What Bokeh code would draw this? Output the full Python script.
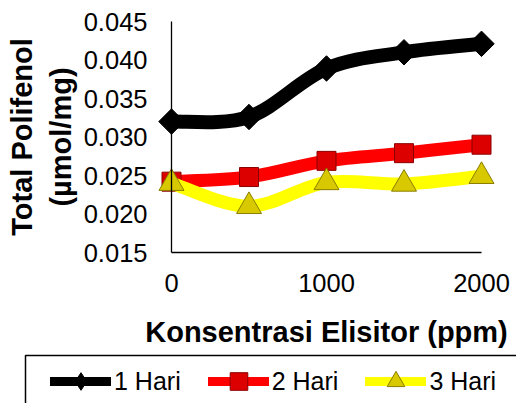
import math
import numpy as np
from bokeh.plotting import figure
from bokeh.models import (Range1d, FixedTicker, Legend, LegendItem, BoxAnnotation,
                          NumeralTickFormatter, ColumnDataSource)
from bokeh.embed import file_html
from bokeh.resources import INLINE

# ---- data ----
concentrations = [0, 500, 1000, 1500, 2000]
hari1 = [0.0320, 0.0326, 0.0389, 0.0410, 0.0421]
hari2 = [0.0242, 0.0248, 0.0269, 0.0279, 0.0290]
hari3 = [0.0240, 0.0210, 0.0241, 0.0239, 0.0249]
series_labels = ["1 Hari", "2 Hari", "3 Hari"]
x_ticks = [0, 1000, 2000]
y_ticks = [0.015, 0.020, 0.025, 0.030, 0.035, 0.040, 0.045]
x_title = "Konsentrasi Elisitor (ppm)"
y_title = "Total Polifenol\n(µmol/mg)"

# ---- layout constants (pixels); the frame covers the whole canvas ----
W, H = 516, 403
ax_left, ax_right, ax_top, ax_bottom = 171, 481, 21, 252

xs_ = (ax_right - ax_left) / (x_ticks[-1] - x_ticks[0])
ys_ = (ax_bottom - ax_top) / (y_ticks[-1] - y_ticks[0])
x_start = x_ticks[0] - ax_left / xs_
x_end = x_ticks[-1] + (W - ax_right) / xs_
y_end = y_ticks[-1] + ax_top / ys_
y_start = y_ticks[0] - (H - ax_bottom) / ys_

p = figure(width=W, height=H, output_backend="svg", toolbar_location=None,
           x_range=Range1d(x_start, x_end), y_range=Range1d(y_start, y_end),
           min_border=0, min_border_left=0, min_border_right=0,
           min_border_top=0, min_border_bottom=0)
p.outline_line_color = None
p.grid.visible = False
p.background_fill_color = "white"
p.border_fill_color = "white"

FONT = "Liberation Sans"

# axes (fixed inside the frame)
p.xaxis.ticker = FixedTicker(ticks=x_ticks)
p.xaxis.bounds = (x_ticks[0], x_ticks[-1])
p.xaxis.fixed_location = y_ticks[0]
p.yaxis.ticker = FixedTicker(ticks=y_ticks)
p.yaxis.bounds = (y_ticks[0], y_ticks[-1])
p.yaxis.formatter = NumeralTickFormatter(format="0.000")
p.yaxis.fixed_location = x_ticks[0]
for ax in (p.xaxis[0], p.yaxis[0]):
    ax.major_tick_out = 0
    ax.major_tick_in = 0
    ax.minor_tick_out = 0
    ax.minor_tick_in = 0
    ax.axis_line_color = "black"
    ax.axis_line_width = 1.3
    ax.major_label_text_font = FONT
    ax.major_label_text_font_size = "25.5px"
    ax.major_label_text_color = "black"
    ax.axis_label_text_font = FONT
    ax.axis_label_text_font_style = "bold"
    ax.axis_label_text_font_size = "29px"
    ax.axis_label_text_color = "black"
p.xaxis.axis_label = x_title
p.yaxis.axis_label = y_title
p.yaxis.axis_label_text_line_height = 1.2
p.xaxis.major_label_standoff = 21
p.xaxis.axis_label_standoff = 21
p.yaxis.major_label_standoff = 24
p.yaxis.axis_label_standoff = 4


def smooth_segments(xs, ys):
    xs = np.asarray(xs, float)
    ys = np.asarray(ys, float)
    n = len(xs)
    px = np.concatenate([[xs[0]], xs, [xs[-1]]])
    py = np.concatenate([[ys[0]], ys, [ys[-1]]])
    d = dict(x0=[], y0=[], x1=[], y1=[], cx0=[], cy0=[], cx1=[], cy1=[])
    for i in range(n - 1):
        a, b, c, e = i, i + 1, i + 2, i + 3
        d["x0"].append(px[b]); d["y0"].append(py[b])
        d["x1"].append(px[c]); d["y1"].append(py[c])
        d["cx0"].append(px[b] + (px[c] - px[a]) / 6)
        d["cy0"].append(py[b] + (py[c] - py[a]) / 6)
        d["cx1"].append(px[c] - (px[e] - px[b]) / 6)
        d["cy1"].append(py[c] - (py[e] - py[b]) / 6)
    return ColumnDataSource(d)


series = [
    (hari1, "black", 14, dict(marker="square", angle=math.pi / 4, size=18,
                              fill_color="black", line_color="black"), "diamond"),
    (hari2, "#FF0000", 13, dict(marker="square", size=19,
                                fill_color="#DD0000", line_color="#8B0000"), "square"),
    (hari3, "#FFFF00", 13, dict(marker="triangle", size=25,
                                fill_color="#D8C800", line_color="#8A7E00"), "triangle"),
]

# legend box (drawn first, behind the legend entries)
box = BoxAnnotation(left=25, right=W + 30, top=H - 355, bottom=-30,
                    left_units="screen", right_units="screen",
                    top_units="screen", bottom_units="screen",
                    fill_color="white", fill_alpha=1, line_color="black",
                    line_width=1.5, line_alpha=1, level="underlay")
p.add_layout(box)

items = []
for (vals, color, lw, mk, legend_marker), label in zip(series, series_labels):
    src = smooth_segments(concentrations, vals)
    p.bezier(x0="x0", y0="y0", x1="x1", y1="y1", cx0="cx0", cy0="cy0",
             cx1="cx1", cy1="cy1", source=src, line_color=color,
             line_width=lw, line_cap="round")
    p.scatter(concentrations, vals, line_width=1, **mk)
    # legend-only renderers (not shown in the plot)
    lg_line = p.line(concentrations, vals, line_color=color, line_width=9,
                     line_cap="round", visible=False)
    lg_mark = p.scatter(concentrations, vals, marker=legend_marker,
                        fill_color=mk["fill_color"], line_color=mk["line_color"],
                        line_width=1, size=18, visible=False)
    items.append(LegendItem(label=label, renderers=[lg_line, lg_mark]))

legend = Legend(items=items, orientation="horizontal",
                location=(50, H - 403),
                padding=0, margin=0, spacing=27, label_standoff=3,
                glyph_width=61, glyph_height=44, label_height=30,
                label_text_font=FONT, label_text_font_size="25px",
                label_text_color="black",
                background_fill_alpha=0, border_line_alpha=0)
p.add_layout(legend, "center")

open("out.html", "w").write(file_html(p, INLINE))
